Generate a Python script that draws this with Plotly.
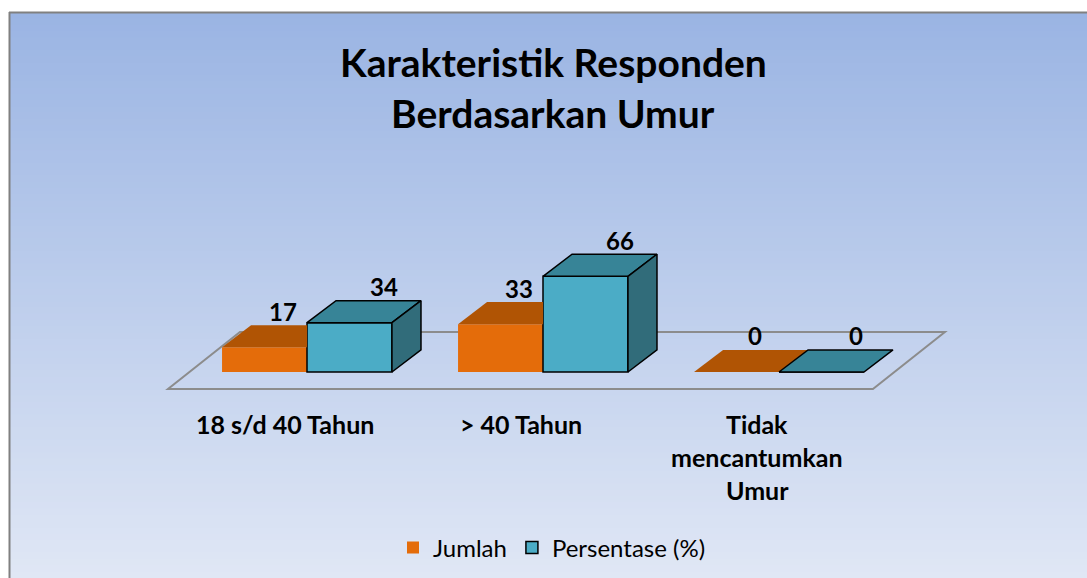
import plotly.graph_objects as go

# ---------------- data ----------------
categories = ["18 s/d 40 Tahun", "> 40 Tahun", "Tidak<br>mencantumkan<br>Umur"]
jumlah = [17, 33, 0]
persentase = [34, 66, 0]
series_names = ["Jumlah", "Persentase (%)"]
title_lines = ["Karakteristik Responden", "Berdasarkan Umur"]

# ---------------- layout constants ----------------
W, H = 1087, 578
PX_CAT, X0_PX = 236.0, 307.0      # pixels per category, pixel of category 0 boundary
PX_VAL, Y0_PX = 1.45, 372.0       # pixels per value unit, pixel of value 0
x_range = [(0 - X0_PX) / PX_CAT, (W - X0_PX) / PX_CAT]
y_range = [(Y0_PX - H) / PX_VAL, Y0_PX / PX_VAL]

BW = 0.36     # bar width (category units)
DX = 0.123    # depth offset x (category units)
DY = 15.2     # depth offset y (value units)

FLOOR_X0, FLOOR_X1 = -0.589, 2.398
FLOOR_V = -11.7
FLOOR_DX, FLOOR_DV = 0.305, 39.3

ORANGE_FRONT, ORANGE_TOP = "#E46C0A", "#B05404"
TEAL_FRONT, TEAL_TOP, TEAL_SIDE = "#4BACC6", "#378497", "#316C7A"
FONT = "Lato"

def px_x(p):
    return p / W

def px_y(p):
    return 1 - p / H

fig = go.Figure()

xs = list(range(len(categories)))

# front faces (bars)
fig.add_trace(go.Bar(x=xs, y=jumlah, offset=-BW, width=BW, name=series_names[0],
                     marker=dict(color=ORANGE_FRONT, line=dict(width=0)), hoverinfo="skip"))
fig.add_trace(go.Bar(x=xs, y=persentase, offset=0, width=BW, name=series_names[1],
                     marker=dict(color=TEAL_FRONT, line=dict(color="black", width=1.5)), hoverinfo="skip"))

# top faces of orange bars (only the part not hidden by teal box)
for i, (o, t) in enumerate(zip(jumlah, persentase)):
    px_ = [i - BW, i, i]
    py_ = [o, o, min(t, o + DY)]
    if t < o + DY:
        px_.append(i + DX * (o + DY - t) / DY)
        py_.append(o + DY)
    px_.append(i - BW + DX)
    py_.append(o + DY)
    fig.add_trace(go.Scatter(x=px_, y=py_, fill="toself", mode="lines",
                             fillcolor=ORANGE_TOP, line=dict(width=0, color=ORANGE_TOP),
                             showlegend=False, hoverinfo="skip"))

# teal top and side faces
for i, t in enumerate(persentase):
    fig.add_trace(go.Scatter(x=[i, i + BW, i + BW + DX, i + DX, i],
                             y=[t, t, t + DY, t + DY, t],
                             fill="toself", mode="lines", fillcolor=TEAL_TOP,
                             line=dict(width=1.5, color="black"),
                             showlegend=False, hoverinfo="skip"))
    if t > 0:
        fig.add_trace(go.Scatter(x=[i + BW, i + BW, i + BW + DX, i + BW + DX, i + BW],
                                 y=[0, t, t + DY, DY, 0],
                                 fill="toself", mode="lines", fillcolor=TEAL_SIDE,
                                 line=dict(width=1.5, color="black"),
                                 showlegend=False, hoverinfo="skip"))

annotations = []
# value labels
for i, (o, t) in enumerate(zip(jumlah, persentase)):
    annotations.append(dict(x=i - BW / 2 + DX / 2, y=o + DY, text=str(o), showarrow=False,
                            xshift=4, yshift=14, yanchor="middle",
                            font=dict(family=FONT, size=24, color="black", weight="bold")))
    annotations.append(dict(x=i + BW / 2 + DX / 2, y=t + DY, text=str(t), showarrow=False,
                            xshift=20, yshift=14, yanchor="middle",
                            font=dict(family=FONT, size=24, color="black", weight="bold")))

# category labels
for i, lab in enumerate(categories):
    for j, line in enumerate(lab.split("<br>")):
        annotations.append(dict(x=i, xshift=-22, yref="paper", y=px_y(424 + 33 * j),
                                text=line, showarrow=False, yanchor="middle",
                                font=dict(family=FONT, size=25, color="black", weight="bold")))

# title
for j, line in enumerate(title_lines):
    annotations.append(dict(xref="paper", yref="paper", x=px_x(553), y=px_y(62 + 51 * j),
                            text=line, showarrow=False, yanchor="middle",
                            font=dict(family=FONT, size=39, color="black", weight="bold")))

# background gradient + frame
shapes = []
top_c = (0x9A, 0xB4, 0xE3)
bot_c = (0xE0, 0xE7, 0xF5)
N = 90
y_top, y_bot = 12, 578
for k in range(N):
    f = (k + 0.5) / N
    c = tuple(round(top_c[m] + (bot_c[m] - top_c[m]) * f) for m in range(3))
    ya = y_top + (y_bot - y_top) * k / N
    yb = y_top + (y_bot - y_top) * (k + 1) / N + 0.8
    shapes.append(dict(type="rect", xref="paper", yref="paper", layer="below",
                       x0=px_x(9), x1=1.01, y0=px_y(min(yb, 580)), y1=px_y(ya),
                       fillcolor="rgb(%d,%d,%d)" % c, line=dict(width=0)))
shapes.append(dict(type="line", xref="paper", yref="paper", layer="below",
                   x0=px_x(9.5), x1=px_x(9.5), y0=-0.01, y1=px_y(12),
                   line=dict(color="#808080", width=2)))
shapes.append(dict(type="line", xref="paper", yref="paper", layer="below",
                   x0=px_x(9), x1=1.01, y0=px_y(12.5), y1=px_y(12.5),
                   line=dict(color="#808080", width=2)))

# floor
fp = "M {a},{b} L {c},{b} L {d},{e} L {f},{e} Z".format(
    a=FLOOR_X0, b=FLOOR_V, c=FLOOR_X1, d=FLOOR_X1 + FLOOR_DX, e=FLOOR_V + FLOOR_DV,
    f=FLOOR_X0 + FLOOR_DX)
shapes.append(dict(type="path", xref="x", yref="y", layer="below", path=fp,
                   line=dict(color="#8C8C8C", width=2), fillcolor="rgba(0,0,0,0)"))

fig.update_layout(
    width=W, height=H, autosize=False,
    margin=dict(l=0, r=0, t=0, b=0),
    paper_bgcolor="white", plot_bgcolor="rgba(0,0,0,0)",
    barmode="overlay",
    xaxis=dict(range=x_range, visible=False, fixedrange=True),
    yaxis=dict(range=y_range, visible=False, fixedrange=True),
    showlegend=True,
    legend=dict(orientation="h", x=px_x(552), xanchor="center", y=px_y(548), yanchor="middle",
                font=dict(family=FONT, size=24, color="black"), bgcolor="rgba(0,0,0,0)",
                itemwidth=30),
    shapes=shapes,
    annotations=annotations,
)

fig.write_html("out.html", config={"displayModeBar": False},
               post_script="document.body.style.margin='0px';document.body.style.overflow='hidden';")
